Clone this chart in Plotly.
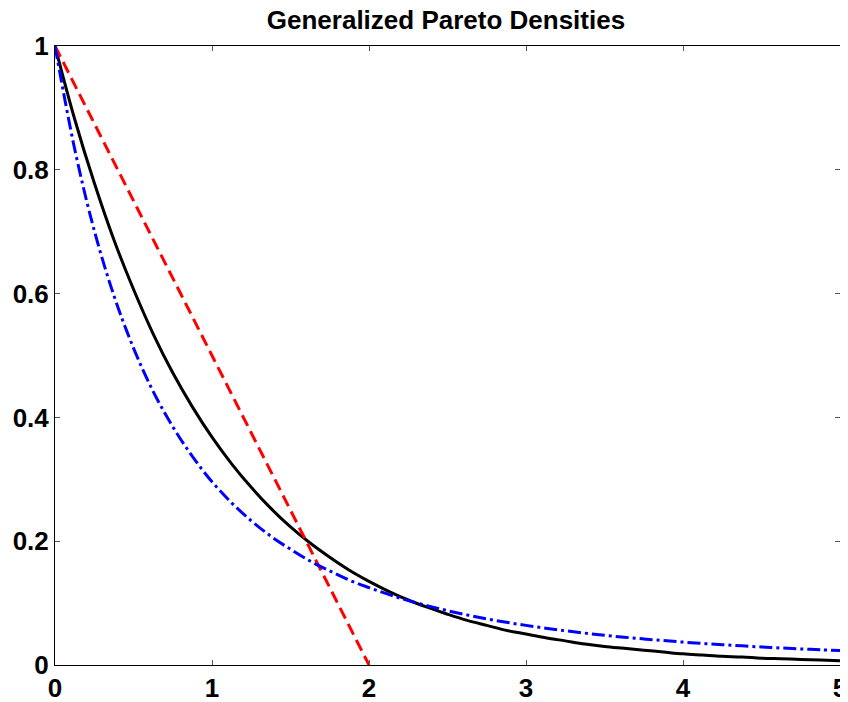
import plotly.graph_objects as go

x_vals = [0, 0.125, 0.25, 0.375, 0.5, 0.625, 0.75, 0.875, 1, 1.125, 1.25, 1.375, 1.5,
          1.625, 1.75, 1.875, 2, 2.125, 2.25, 2.375, 2.5, 2.625, 2.75, 2.875, 3, 3.125,
          3.25, 3.375, 3.5, 3.625, 3.75, 3.875, 4, 4.125, 4.25, 4.375, 4.5, 4.625, 4.75,
          4.875, 5]

black_y = [1.000, 0.882, 0.779, 0.687, 0.607, 0.535, 0.472, 0.417, 0.368, 0.325, 0.287,
           0.253, 0.223, 0.197, 0.174, 0.153, 0.135, 0.119, 0.105, 0.093, 0.082, 0.072,
           0.064, 0.056, 0.050, 0.044, 0.039, 0.034, 0.030, 0.027, 0.024, 0.021, 0.018,
           0.016, 0.014, 0.013, 0.011, 0.010, 0.009, 0.008, 0.007]

blue_y = [1.000, 0.834, 0.702, 0.597, 0.512, 0.442, 0.385, 0.337, 0.296, 0.262, 0.233,
          0.208, 0.187, 0.168, 0.152, 0.137, 0.125, 0.114, 0.104, 0.0955, 0.0878, 0.0809,
          0.0746, 0.0690, 0.064, 0.0594, 0.0553, 0.0515, 0.0481, 0.0449, 0.0421, 0.0395,
          0.0370, 0.0348, 0.0328, 0.0309, 0.0291, 0.0275, 0.0260, 0.0246, 0.0233]

red_x = [0, 0.5, 1, 1.5, 2]
red_y = [1.0, 0.75, 0.5, 0.25, 0.0]

x_ticks = [0, 1, 2, 3, 4, 5]
x_labels = ["0", "1", "2", "3", "4", "5"]
y_ticks = [0, 0.2, 0.4, 0.6, 0.8, 1]
y_labels = ["0", "0.2", "0.4", "0.6", "0.8", "1"]

title_text = "Generalized Pareto Densities"

fig = go.Figure()
fig.add_trace(go.Scatter(x=x_vals, y=black_y, mode="lines",
                         line=dict(color="black", width=3, shape="spline")))
fig.add_trace(go.Scatter(x=red_x, y=red_y, mode="lines",
                         line=dict(color="red", width=3, dash="12px,6px")))
fig.add_trace(go.Scatter(x=x_vals, y=blue_y, mode="lines",
                         line=dict(color="blue", width=3, shape="spline",
                                   dash="13px,4px,3px,4px")))

font_main = dict(family="Liberation Sans, Arial, sans-serif", size=26, color="black",
                 weight="bold")

axis_common = dict(showline=True, linecolor="black", linewidth=1, mirror="ticks",
                   ticks="inside", ticklen=5, tickcolor="#555555", tickwidth=1,
                   showgrid=False, zeroline=False, tickfont=font_main, automargin=False,
                   ticklabeloverflow="allow")

# page body has an 8px default margin, so the figure is sized to fit the window
fig.update_layout(
    width=840, height=694,
    margin=dict(l=47, r=8, t=38, b=37),
    paper_bgcolor="white", plot_bgcolor="white",
    showlegend=False,
    title=dict(text=title_text, x=0.5214, xanchor="center", y=0.9827, yanchor="middle",
               font=dict(family="Liberation Sans, Arial, sans-serif", size=26,
                         color="black", weight="bold")),
    xaxis=dict(range=[0, 5], tickvals=x_ticks, ticktext=x_labels, **axis_common),
    yaxis=dict(range=[0, 1], tickvals=y_ticks, ticktext=y_labels, **axis_common),
)

fig.write_html("out.html")
